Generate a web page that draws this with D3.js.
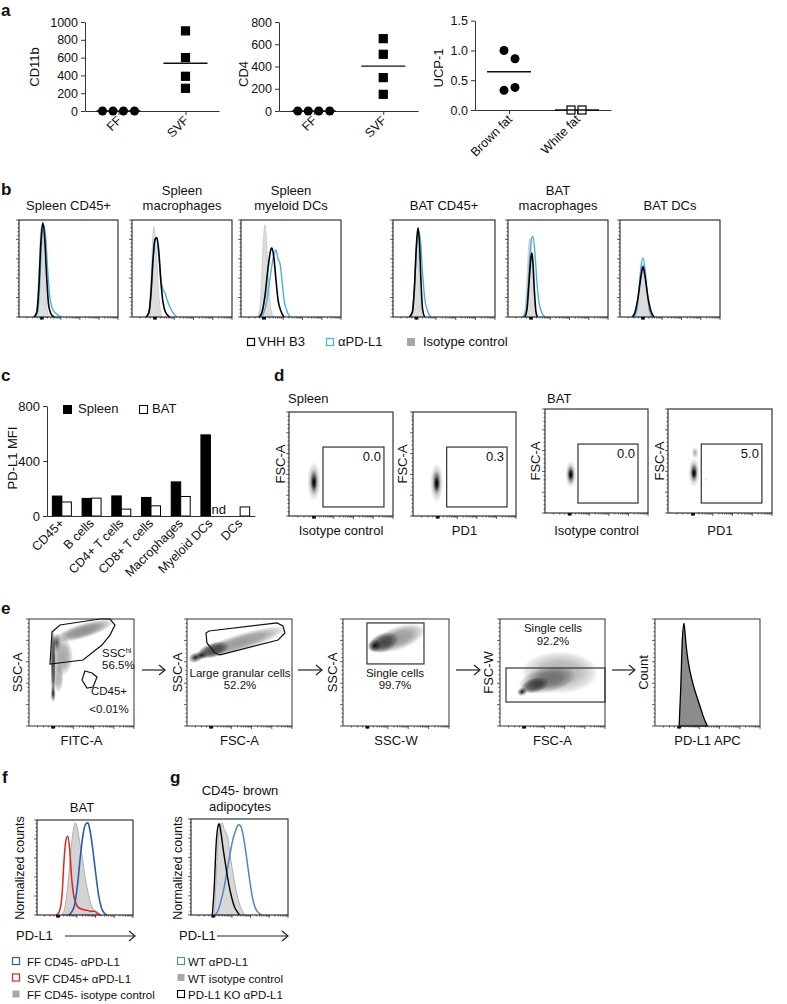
<!DOCTYPE html>
<html><head><meta charset="utf-8">
<script src="https://cdn.jsdelivr.net/npm/d3@7"></script>
<style>body{margin:0;background:#fff}</style>
</head><body><script>
// ================= DATA =================
// Panel a
const aCells = ["FF","SVF"];
const cd11bFF = [0,0,0,0];
const cd11bSVF = [900,600,390,255];
const cd11bTicks = [0,200,400,600,800,1000];
const cd4FF = [0,0,0,0];
const cd4SVF = [650,510,300,150];
const cd4Ticks = [0,200,400,600,800];
const ucpCats = ["Brown fat","White fat"];
const ucpBrown = [1.0,0.86,0.33,0.38];
const ucpWhite = [0,0];
const ucpTicks = [0,0.5,1.0,1.5];

// Panel b: histograms, [x% of axis, y% of max]
const bTitles = [["Spleen CD45+"],["Spleen","macrophages"],["Spleen","myeloid DCs"],["BAT CD45+"],["BAT","macrophages"],["BAT DCs"]];
const bIso = [
 [[15,0],[18,10],[20,50],[22,90],[23,94],[25,70],[27,30],[29,5],[31,0]],
 [[14,0],[17,8],[19,40],[21,85],[22,93],[24,75],[26,35],[28,10],[30,0]],
 [[16,0],[19,10],[21,50],[23,88],[24,95],[26,70],[28,30],[30,8],[33,0]],
 [[17,0],[20,10],[22,50],[24,85],[25.5,55],[27,15],[29,0]],
 [[14,0],[17,8],[19,40],[21,78],[22,81],[24,60],[26,25],[28,5],[30,0]],
 [[14,0],[17,8],[19,30],[21,50],[23,55],[25,45],[27,22],[29,6],[31,0]]
];
const bVHH = [
 [[15,0],[18,5],[20,30],[22,75],[24,97],[26,80],[28,40],[30,12],[33,2],[36,0]],
 [[14,0],[17,5],[19,25],[21,60],[23,80],[25,82],[27,65],[29,35],[31,15],[34,4],[38,0]],
 [[18,0],[21,5],[24,22],[27,50],[30,70],[31,71],[33,60],[35,38],[37,18],[40,6],[43,0]],
 [[16,0],[19,5],[21,30],[23,75],[24.5,92],[26,75],[27.5,35],[29,8],[31,0]],
 [[17,0],[19,8],[21,35],[23,62],[24,66],[25,55],[26.5,25],[28,5],[29.5,0]],
 [[12,0],[15,5],[18,20],[21,42],[23,52],[25,42],[28,20],[31,6],[34,0]]
];
const bPDL1 = [
 [[16,0],[19,6],[21,35],[23,80],[25,95],[27,82],[29,48],[31,22],[34,8],[38,3],[42,0]],
 [[14,0],[17,4],[19,22],[21,55],[23,78],[25,80],[27,60],[29,38],[31,28],[33,25],[35,18],[38,10],[42,3],[45,0]],
 [[20,0],[23,5],[26,18],[29,40],[32,60],[34,68],[35,69],[37,60],[39,55],[41,38],[43,18],[46,6],[49,0]],
 [[16,0],[19,6],[21,30],[23,70],[25.5,88],[27,78],[29,45],[31,20],[34,6],[37,0]],
 [[15,0],[18,6],[20,30],[22,65],[24,82],[25,83],[27,65],[29,35],[31,15],[34,4],[37,0]],
 [[14,0],[17,8],[19,28],[21,52],[23,61],[25,50],[27,28],[29,10],[32,0]]
];
const bLegend = ["VHH B3","\u03b1PD-L1","Isotype control"];

// Panel c
const cCats = ["CD45+","B cells","CD4+ T cells","CD8+ T cells","Macrophages","Myeloid DCs","DCs"];
const cSpleen = [145,128,146,135,248,590,null];
const cBAT = [102,130,50,74,142,null,66];
const cTicks = [0,400,800];
const cLegend = ["Spleen","BAT"];

// Panel d  (density blobs: cx%, cy%, rx%, ry%, rotation, opacity, flat)
const dXLabels = ["Isotype control","PD1","Isotype control","PD1"];
const dGateValues = ["0.0","0.3","0.0","5.0"];
const dGates = [[32.7,8.7,91.3,66.3],[32.7,8.7,91.3,66.3],[32,9.6,90.3,66.3],[32,9.6,90.3,66.3]];
const dBlobs = [
 [[24,33,6.5,19,0,0.5],[24,33,4,12,0,0.8],[24,32,2.5,7,0,1]],
 [[23,32,6.5,19,0,0.5],[23,32,4,12,0,0.8],[23,31,2.5,7,0,1]],
 [[25,37,5.5,13,0,0.5],[25,37,3.5,9,0,0.8],[25,37,2.5,5,0,1]],
 [[25,39,5.5,14,0,0.5],[25,39,3.5,9,0,0.85],[25,38,2.5,5,0,1],[26,58,3.5,6,0,0.35],[37,32,1.2,1.2,0,0.25]]
];

// Panel e
const eYLabels = ["SSC-A","SSC-A","SSC-A","FSC-W","Count"];
const eXLabels = ["FITC-A","FSC-A","SSC-W","FSC-A","PD-L1 APC"];
const eBlobs = [
 [[23,58,2.5,32,0,0.7,1],[23,30,2.5,8,0,0.9],[26,78,5,9,0,0.7],[52,89,30,7,-17,0.45,1],[32,65,10,18,0,0.35,1],[28,45,5,14,0,0.3,1]],
 [[50,78,47,8,-17,0.4,1],[25,71,16,7,-17,0.6,1],[8,64,7,5,-17,0.9],[14,66,6,4,-17,0.8]],
 [[52,82,27,11,-20,0.4,1],[38,78,15,9,-20,0.6,1],[30,75,7,6,-20,0.9]],
 [[57,50,37,20,0,0.3,1],[45,43,28,12,-12,0.4,1],[33,38,14,7,-15,0.6,1],[21,32,5,4,-15,0.95]]
];
const eGateSSC = [[21.9,87.9],[29.5,94.4],[67.6,100],[77.1,100],[81.9,94.4],[77.1,85],[69.5,75.7],[51.4,61.7],[20,57.9]];
const eGateCD45 = [[53.3,51.4],[60,49.5],[64.8,45.8],[61,36.4],[55.2,35.5],[50.5,43]];
const eGateLG = [[21,88.8],[85.7,96.3],[91.4,93.5],[93.3,86.9],[86.7,80.4],[31.4,66.4],[26.7,68.2],[19,77.6],[18.1,86.9]];
const eGateSingle1 = [22.6,58,76.4,96.3];
const eGateSingle2 = [5.7,22.4,100,54.2];
const eCount = [[23,0],[24.5,35],[26,80],[27.6,96],[28.5,88],[30,72],[32,58],[34,48],[36,40],[38,33],[40,27],[42,21],[44,15],[46,9],[48,4],[50,0]];

// Panel f
const fFFpdl1 = [[33,0],[36,3],[39,10],[42,30],[45,60],[48,85],[51,96],[53,97],[55,90],[58,70],[61,45],[64,22],[67,8],[70,2],[73,0]];
const fSVFpdl1 = [[20,0],[23,3],[26,20],[28,55],[30,78],[32,83],[34,70],[36,40],[38,22],[40,14],[43,8],[47,6],[52,5],[56,4],[60,4],[63,2],[66,0]];
const fFFiso = [[26,0],[29,8],[32,30],[35,65],[38,90],[40,97],[42,92],[44,80],[46,68],[48,55],[50,40],[53,25],[56,12],[60,4],[64,0]];
const fLegend = ["FF CD45- \u03b1PD-L1","SVF CD45+ \u03b1PD-L1","FF CD45- isotype control"];
// Panel g
const gWTpdl1 = [[25,0],[28,5],[31,15],[34,28],[37,45],[40,62],[43,78],[46,88],[49,94],[51,93],[54,82],[57,62],[60,40],[63,20],[66,8],[70,2],[73,0]];
const gWTiso = [[24,0],[26,40],[28,80],[30,92],[32,96],[34,90],[36,86],[38,80],[40,65],[43,45],[46,28],[49,15],[52,6],[56,0]];
const gKOpdl1 = [[22,0],[24,30],[26,75],[28,93],[29,95],[31,85],[33,70],[36,50],[39,32],[42,18],[45,8],[48,3],[50,0]];
const gLegend = ["WT \u03b1PD-L1","WT isotype control","PD-L1 KO \u03b1PD-L1"];

// ================= DRAWING =================
const FONT = '"Liberation Sans", Arial, Helvetica, sans-serif';
const svg = d3.select("body").append("svg").attr("width",787).attr("height",1004)
  .attr("font-family",FONT);
const defs = svg.append("defs");
const rg = defs.append("radialGradient").attr("id","rg");
rg.append("stop").attr("offset","0").attr("stop-color","#000").attr("stop-opacity",1);
rg.append("stop").attr("offset","0.45").attr("stop-color","#000").attr("stop-opacity",0.5);
rg.append("stop").attr("offset","1").attr("stop-color","#000").attr("stop-opacity",0);
const rgf = defs.append("radialGradient").attr("id","rgf");
rgf.append("stop").attr("offset","0").attr("stop-color","#000").attr("stop-opacity",1);
rgf.append("stop").attr("offset","0.5").attr("stop-color","#000").attr("stop-opacity",0.85);
rgf.append("stop").attr("offset","0.8").attr("stop-color","#000").attr("stop-opacity",0.4);
rgf.append("stop").attr("offset","1").attr("stop-color","#000").attr("stop-opacity",0);
let clipId = 0;

function txt(x,y,s,o={}){
  const t = svg.append("text").attr("font-size",o.fs||13).attr("text-anchor",o.anchor||"start")
    .attr("fill",o.fill||"#111");
  if(o.rot!=null) t.attr("transform",`translate(${x},${y}) rotate(${o.rot})`);
  else t.attr("x",x).attr("y",y);
  if(o.bold) t.attr("font-weight","bold");
  t.text(s); return t;
}
function styleAxis(g,fs){
  g.attr("font-family",FONT).attr("font-size",fs);
  g.selectAll("path.domain").attr("stroke","#333");
  g.selectAll(".tick line").attr("stroke","#333");
  g.selectAll(".tick text").attr("fill","#111");
}

// ---- panel labels
txt(1,16,"a",{fs:17,bold:true});
txt(1,195,"b",{fs:17,bold:true});
txt(1,381,"c",{fs:17,bold:true});
txt(274,381,"d",{fs:17,bold:true});
txt(1,614,"e",{fs:17,bold:true});
txt(2,783,"f",{fs:17,bold:true});
txt(170,783,"g",{fs:17,bold:true});

// ---- Panel a dot plots
function dotPlot(c){
  const x = d3.scalePoint().domain(c.cats).range([c.x0,c.x1]).padding(0.5);
  const y = d3.scaleLinear().domain([0,c.max]).range([c.yb,c.yt]);
  const ga = svg.append("g").attr("transform",`translate(${c.x0},0)`)
    .call(d3.axisLeft(y).tickValues(c.ticks).tickFormat(c.fmt).tickSize(4).tickSizeOuter(0));
  styleAxis(ga,12.5);
  const gb = svg.append("g").attr("transform",`translate(0,${c.yb})`)
    .call(d3.axisBottom(x).tickSize(4).tickSizeOuter(0).tickFormat(""));
  styleAxis(gb,12);
  c.cats.forEach(k=>txt(x(k)+4,c.yb+10,k,{fs:12.5,anchor:"end",rot:-45}));
  txt(c.lx,c.ly,c.ylabel,{fs:13,anchor:"middle",rot:-90});
  c.groups.forEach((gr,gi)=>{
    const cx = x(c.cats[gi]);
    gr.vals.forEach((v,i)=>{
      const px = cx+gr.off[i], py = y(v);
      if(gr.shape==="circle") svg.append("circle").attr("cx",px).attr("cy",py).attr("r",4.5).attr("fill","#000");
      else svg.append("rect").attr("x",px-4).attr("y",py-4).attr("width",8).attr("height",8)
        .attr("fill",gr.open?"#fff":"#000").attr("stroke","#000").attr("stroke-width",1.2);
    });
    const m = d3.mean(gr.vals);
    svg.append("line").attr("x1",cx-22).attr("x2",cx+22).attr("y1",y(m)).attr("y2",y(m))
      .attr("stroke","#111").attr("stroke-width",1.3);
  });
}
dotPlot({cats:aCells,x0:85,x1:219,yb:111,yt:22,max:1000,ticks:cd11bTicks,fmt:d3.format("d"),
  ylabel:"CD11b",lx:39,ly:67,
  groups:[{vals:cd11bFF,shape:"circle",off:[-16,-5.5,5,16]},{vals:cd11bSVF,shape:"square",off:[0,0,0,0]}]});
dotPlot({cats:aCells,x0:279,x1:418,yb:111,yt:22,max:800,ticks:cd4Ticks,fmt:d3.format("d"),
  ylabel:"CD4",lx:248,ly:74,
  groups:[{vals:cd4FF,shape:"circle",off:[-16,-5.5,5,16]},{vals:cd4SVF,shape:"square",off:[0,0,0,0]}]});
dotPlot({cats:ucpCats,x0:475,x1:611,yb:110,yt:20.7,max:1.5,ticks:ucpTicks,fmt:d3.format(".1f"),
  ylabel:"UCP-1",lx:443,ly:68,
  groups:[{vals:ucpBrown,shape:"circle",off:[-5,6,-5,6]},{vals:ucpWhite,shape:"square",open:true,off:[-6,5]}]});

// ---- flow helpers
function flowTicks(box,zero){
  const [x0,y0,x1,y1]=box;
  const g = svg.append("g").attr("stroke","#333").attr("stroke-width",0.8);
  const yl = d3.scaleLinear().domain([0,100]).range([y1,y0]);
  d3.range(0,101,4).forEach(v=>{
    const len = v%20===0?3:1.5;
    g.append("line").attr("x1",x0).attr("x2",x0-len).attr("y1",yl(v)).attr("y2",yl(v));
  });
  const xz = x0+zero*(x1-x0);
  const xl = d3.scaleLog().domain([1,1e4]).range([xz,x1]);
  xl.ticks().forEach(v=>{
    const major = Math.abs(Math.log10(v)%1)<1e-9;
    g.append("line").attr("x1",xl(v)).attr("x2",xl(v)).attr("y1",y1).attr("y2",y1+(major?3:1.5));
  });
  [0.35,0.6,0.8].forEach(f=>{
    const xx = x0+(xz-x0)*f;
    g.append("line").attr("x1",xx).attr("x2",xx).attr("y1",y1).attr("y2",y1+1.5);
  });
  svg.append("rect").attr("x",xz-2).attr("y",y1).attr("width",4).attr("height",2.5).attr("fill","#111");
}
function frame(box,stroke){
  const [x0,y0,x1,y1]=box;
  svg.append("rect").attr("x",x0).attr("y",y0).attr("width",x1-x0).attr("height",y1-y0)
    .attr("fill","none").attr("stroke",stroke||"#222").attr("stroke-width",1.1);
}
function histo(box,curves){
  const [x0,y0,x1,y1]=box;
  const x = d3.scaleLinear().domain([0,100]).range([x0,x1]);
  const y = d3.scaleLinear().domain([0,100]).range([y1,y0]);
  curves.forEach(c=>{
    if(c.fill){
      svg.append("path").datum(c.pts)
        .attr("d",d3.area().x(d=>x(d[0])).y0(y(0)).y1(d=>y(d[1])).curve(d3.curveMonotoneX))
        .attr("fill",c.fill).attr("stroke",c.stroke||"none").attr("stroke-width",c.sw||1);
    } else {
      svg.append("path").datum(c.pts)
        .attr("d",d3.line().x(d=>x(d[0])).y(d=>y(d[1])).curve(d3.curveMonotoneX))
        .attr("fill","none").attr("stroke",c.stroke).attr("stroke-width",c.sw||1.5);
    }
  });
}
function blobs(box,list){
  const [x0,y0,x1,y1]=box;
  const x = d3.scaleLinear().domain([0,100]).range([x0,x1]);
  const y = d3.scaleLinear().domain([0,100]).range([y1,y0]);
  const id = "clip"+(clipId++);
  defs.append("clipPath").attr("id",id).append("rect").attr("x",x0).attr("y",y0).attr("width",x1-x0).attr("height",y1-y0);
  const g = svg.append("g").attr("clip-path",`url(#${id})`);
  list.forEach(b=>{
    g.append("ellipse").attr("cx",0).attr("cy",0)
      .attr("rx",x(b[2])-x(0)).attr("ry",y(0)-y(b[3]))
      .attr("transform",`translate(${x(b[0])},${y(b[1])}) rotate(${b[4]})`)
      .attr("fill",b[6]?"url(#rgf)":"url(#rg)").attr("fill-opacity",b[5]);
  });
}
function gatePoly(box,pts){
  const [x0,y0,x1,y1]=box;
  const x = d3.scaleLinear().domain([0,100]).range([x0,x1]);
  const y = d3.scaleLinear().domain([0,100]).range([y1,y0]);
  svg.append("path").datum(pts).attr("d",d3.line().x(d=>x(d[0])).y(d=>y(d[1])).curve(d3.curveLinearClosed))
    .attr("fill","none").attr("stroke","#111").attr("stroke-width",1.2);
}
function gateRect(box,r){
  const [x0,y0,x1,y1]=box;
  const x = d3.scaleLinear().domain([0,100]).range([x0,x1]);
  const y = d3.scaleLinear().domain([0,100]).range([y1,y0]);
  svg.append("rect").attr("x",x(r[0])).attr("y",y(r[3])).attr("width",x(r[2])-x(r[0])).attr("height",y(r[1])-y(r[3]))
    .attr("fill","none").attr("stroke","#333").attr("stroke-width",1.2);
}

// ---- Panel b
const bBoxes = [[19,220,118,317],[132,220,232,317],[241,220,341,317],[393,220,495,317],[508,220,608,317],[620,220,720,317]];
bBoxes.forEach((box,i)=>{
  const cx = (box[0]+box[2])/2;
  const t = bTitles[i];
  if(t.length===1) txt(cx,210,t[0],{anchor:"middle",fs:13});
  else { txt(cx,195,t[0],{anchor:"middle",fs:13}); txt(cx,210,t[1],{anchor:"middle",fs:13}); }
  histo(box,[
    {pts:bIso[i],fill:"#dcdcdc",stroke:"#c8c8c8",sw:0.8},
    {pts:bPDL1[i],stroke:"#4ab0e0",sw:1.4},
    {pts:bVHH[i],stroke:"#000",sw:1.6}
  ]);
  frame(box);
  flowTicks(box,0.23);
});
// legend b
svg.append("rect").attr("x",247.5).attr("y",338.5).attr("width",7).attr("height",7).attr("fill","#fff").attr("stroke","#000").attr("stroke-width",1.2);
txt(258,346,bLegend[0],{fs:13});
svg.append("rect").attr("x",326.5).attr("y",338.5).attr("width",7).attr("height",7).attr("fill","#fff").attr("stroke","#4ab0e0").attr("stroke-width",1.2);
txt(338,346,bLegend[1],{fs:13});
svg.append("rect").attr("x",407).attr("y",338).attr("width",8).attr("height",8).attr("fill","#a8a8a8");
txt(423,346,bLegend[2],{fs:13});

// ---- Panel c
{
  const x = d3.scaleBand().domain(cCats).range([47,255]).paddingInner(0.36).paddingOuter(0.18);
  const y = d3.scaleLinear().domain([0,800]).range([516,406]);
  const bw = x.bandwidth()/2;
  cCats.forEach((k,i)=>{
    if(cSpleen[i]!=null) svg.append("rect").attr("x",x(k)).attr("y",y(cSpleen[i])).attr("width",bw).attr("height",y(0)-y(cSpleen[i]))
      .attr("fill","#000").attr("stroke","#000");
    if(cBAT[i]!=null) svg.append("rect").attr("x",x(k)+bw).attr("y",y(cBAT[i])).attr("width",bw).attr("height",y(0)-y(cBAT[i]))
      .attr("fill","#fff").attr("stroke","#000");
    else txt(x(k)+bw+1,514,"nd",{fs:13});
    txt(x(k)+x.bandwidth()/2+3,524,k,{fs:12.5,anchor:"end",rot:-45});
  });
  const ga = svg.append("g").attr("transform","translate(47,0)")
    .call(d3.axisLeft(y).tickValues(cTicks).tickSize(4).tickSizeOuter(0));
  styleAxis(ga,13);
  const gb = svg.append("g").attr("transform","translate(0,516)")
    .call(d3.axisBottom(x).tickSize(0).tickSizeOuter(0).tickFormat(""));
  styleAxis(gb,12);
  txt(17,458,"PD-L1 MFI",{fs:13,anchor:"middle",rot:-90});
  svg.append("rect").attr("x",63.5).attr("y",405.5).attr("width",8).attr("height",8).attr("fill","#000").attr("stroke","#000");
  txt(78,413,cLegend[0],{fs:13});
  svg.append("rect").attr("x",139.5).attr("y",405.5).attr("width",8).attr("height",8).attr("fill","#fff").attr("stroke","#000");
  txt(152,413,cLegend[1],{fs:13});
}

// ---- Panel d
txt(288,403,"Spleen",{fs:13});
txt(547,403,"BAT",{fs:13});
const dBoxes = [[289,412,393,516],[413,412,516,516],[545,409,648,513],[668,409,772,513]];
const dYLabX = [285,407,540,664];
dBoxes.forEach((box,i)=>{
  blobs(box,dBlobs[i]);
  frame(box);
  flowTicks(box,0.24);
  gateRect(box,dGates[i]);
  const x = d3.scaleLinear().domain([0,100]).range([box[0],box[2]]);
  const y = d3.scaleLinear().domain([0,100]).range([box[3],box[1]]);
  txt(x(dGates[i][2])-3,y(dGates[i][3])+14,dGateValues[i],{fs:13,anchor:"end"});
  txt((box[0]+box[2])/2,535,dXLabels[i],{fs:13,anchor:"middle"});
  txt(dYLabX[i],(box[1]+box[3])/2,"FSC-A",{fs:13,anchor:"middle",rot:-90});
});

// ---- Panel e
const eBoxes = [[29,619,134,726],[187,619,292,726],[343,619,449,726],[500,619,605,726],[655,619,760,726]];
const eYLabX = [22,182,337,493,648];
eBoxes.forEach((box,i)=>{
  if(i<4) blobs(box,eBlobs[i]);
  else histo(box,[{pts:eCount,fill:"#8c8c8c",stroke:"#000",sw:1.3}]);
  frame(box,"#444");
  flowTicks(box,0.23);
  txt(eYLabX[i],(box[1]+box[3])/2,eYLabels[i],{fs:13,anchor:"middle",rot:-90});
  txt((box[0]+box[2])/2,745,eXLabels[i],{fs:13,anchor:"middle"});
});
gatePoly(eBoxes[0],eGateSSC);
gatePoly(eBoxes[0],eGateCD45);
gatePoly(eBoxes[1],eGateLG);
gateRect(eBoxes[2],eGateSingle1);
gateRect(eBoxes[3],eGateSingle2);
{
  const t = svg.append("text").attr("x",102).attr("y",657).attr("font-size",11.5).attr("fill","#111");
  t.append("tspan").text("SSC");
  t.append("tspan").attr("font-size",7.5).attr("dy",-4).text("hi");
}
txt(102,669,"56.5%",{fs:11.5});
txt(109,695,"CD45+",{fs:11.5,anchor:"middle"});
txt(109,713,"<0.01%",{fs:11.5,anchor:"middle"});
txt(240,677,"Large granular cells",{fs:11.5,anchor:"middle"});
txt(240,689,"52.2%",{fs:11.5,anchor:"middle"});
txt(395,677,"Single cells",{fs:11.5,anchor:"middle"});
txt(395,689,"99.7%",{fs:11.5,anchor:"middle"});
txt(553,632,"Single cells",{fs:11.5,anchor:"middle"});
txt(553,645,"92.2%",{fs:11.5,anchor:"middle"});
function arrow(xa,xb,y){
  svg.append("line").attr("x1",xa).attr("x2",xb).attr("y1",y).attr("y2",y).attr("stroke","#222").attr("stroke-width",1.2);
  svg.append("path").attr("d",`M${xb-6},${y-5}L${xb},${y}L${xb-6},${y+5}`).attr("fill","none").attr("stroke","#222").attr("stroke-width",1.2);
}
arrow(142,165,670); arrow(298,322,670); arrow(456,480,670); arrow(612,635,670);

// ---- Panel f & g
const fBox = [37,820,133,915], gBox = [191,819,288,915];
txt(82,812,"BAT",{fs:13,anchor:"middle"});
txt(240,795,"CD45- brown",{fs:13,anchor:"middle"});
txt(240,811,"adipocytes",{fs:13,anchor:"middle"});
histo(fBox,[
  {pts:fFFiso,fill:"#d3d3d3",stroke:"#b0b0b0",sw:1},
  {pts:fSVFpdl1,stroke:"#e3231c",sw:1.5},
  {pts:fFFpdl1,stroke:"#2a5db0",sw:1.6}
]);
frame(fBox); flowTicks(fBox,0.22);
histo(gBox,[
  {pts:gWTiso,fill:"#d8d8d8",stroke:"#b0b0b0",sw:1},
  {pts:gWTpdl1,stroke:"#4f86c6",sw:1.5},
  {pts:gKOpdl1,stroke:"#000",sw:1.4}
]);
frame(gBox); flowTicks(gBox,0.23);
txt(24,868,"Normalized counts",{fs:12.5,anchor:"middle",rot:-90});
txt(182,868,"Normalized counts",{fs:12.5,anchor:"middle",rot:-90});
txt(16,940,"PD-L1",{fs:13}); arrow(65,135,936);
txt(179,940,"PD-L1",{fs:13}); arrow(217,288,936);
// legends f
const fLegStyle = [{stroke:"#2a5db0",fill:"#fff"},{stroke:"#e3231c",fill:"#fff"},{stroke:"none",fill:"#a8a8a8"}];
fLegend.forEach((s,i)=>{
  const yy = 966+i*16.5;
  svg.append("rect").attr("x",12.5).attr("y",yy-8.5).attr("width",7).attr("height",7).attr("fill",fLegStyle[i].fill).attr("stroke",fLegStyle[i].stroke).attr("stroke-width",1.2);
  txt(27,yy,s,{fs:11.5});
});
const gLegStyle = [{stroke:"#4f86c6",fill:"#fff"},{stroke:"none",fill:"#a8a8a8"},{stroke:"#000",fill:"#fff"}];
gLegend.forEach((s,i)=>{
  const yy = 966+i*16.5;
  svg.append("rect").attr("x",177.5).attr("y",yy-8.5).attr("width",7).attr("height",7).attr("fill",gLegStyle[i].fill).attr("stroke",gLegStyle[i].stroke).attr("stroke-width",1.1);
  txt(188,yy,s,{fs:11.5});
});
</script></body></html>
